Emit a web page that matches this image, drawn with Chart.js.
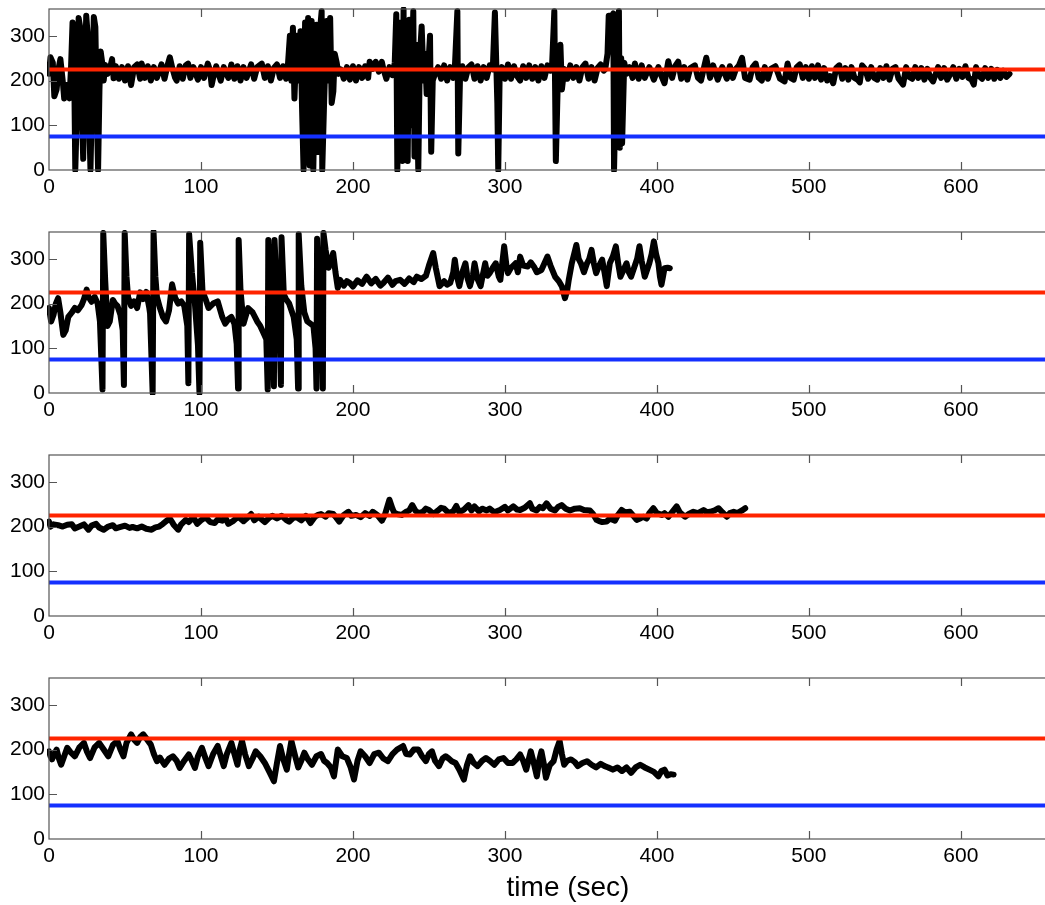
<!DOCTYPE html>
<html>
<head>
<meta charset="utf-8">
<script src="https://cdn.jsdelivr.net/npm/chart.js@4"></script>
<style>
html,body{margin:0;padding:0;background:#fff;overflow:hidden;}
#wrap{position:relative;width:1045px;height:905px;overflow:hidden;}
canvas{position:absolute;left:0;}
</style>
</head>
<body>
<div id="wrap">
<canvas id="c1" width="1090" height="223" style="top:0px"></canvas>
<canvas id="c2" width="1090" height="223" style="top:223px"></canvas>
<canvas id="c3" width="1090" height="223" style="top:446px"></canvas>
<canvas id="c4" width="1090" height="236" style="top:669px"></canvas>
</div>
<script>
// ---- data ----
const xTicks = [0, 100, 200, 300, 400, 500, 600];
const yTicks = [0, 100, 200, 300];
const xRange = [0, 683];
const yRange = [0, 360];
const upperLevel = 225;   // red reference line
const lowerLevel = 75;    // blue reference line
const xTitle = 'time (sec)';

const time1 = [0,1,2.5,3.5,5,6.5,7.5,9,10,11.5,12.5,13.5,14.5,15.5,16.5,17.3,18.5,19.5,20.5,21.5,22.5,23.5,24.5,25.5,26.5,27.3,28.5,29.5,30.5,31.5,32.3,33.2,34,35,36,37,38.5,
40,41.5,42.5,44,46,48,50,52,54,56,58,60,61,63,65,67,69,71,74,76,78,79.5,81,83,84,86,88,90,91.5,93,95,98,100,102,104.5,106,107,108,110,113,115,118,120,122,124,126,128,130,133,135,137,140,142,144,146,148,150,152,154,156,157,
158.5,159.5,160.5,161.5,163,164,165.5,166.5,167.5,168.5,169.5,170.5,171.5,172.8,173.9,175,176,177,178,179.4,179.8,181,182.7,184,185,186,187.1,188,189.3,190.5,192,
194,196,198,200,202,204,206,208,210,211,213,215,217,219,220,222,224,226,
227.5,228.5,229.2,230.5,231.5,232.5,233.3,234,235.3,236,237,238,239.7,240.5,241.5,243,244,245.2,246.5,247.4,248.5,250.7,251.5,252.5,254,
256,258,260,262,264,266,267,268.7,269.3,270.5,272,274,276,278,280,282,284,286,288,290,292,293.4,295,295.6,296.5,298,300,302,304,306,308,310,312,314,316,318,320,322,324,326,328,330,331,332.5,333.5,335,336.5,337.5,339,341,343,345,347,349,351,353,355,357,359,361,363,365,366,367.5,368.3,370.5,371.3,371.8,373,375,375.6,376.5,377.1,378.5,380,
382,384,385.5,388,390,392,395,398,401,403,405,407.5,410,412,414,416,418,420,422,425,427,429,432.5,435,437,440,443,446,448,450,452,454,456,458,461,463,465,467,469,471,473,475,478,481,484,486,488,490,492,494,496,498,500,502,504,506,508,510,512,514,516,518,520,522,524,526,528,530,532,533.5,535,537,539,541,543,545,547,549,551,553,555,557,559,562,564,566,568,570,572,574,576,578,580,581.7,583,585,587,589,591,593,595,597,599,601,603,605,607,608.5,610,612,614,616,618,620,622,624,626,628,630,632];
const angle1 = [215,252,240,165,180,230,248,200,160,190,175,160,230,330,250,0,150,340,320,150,25,210,345,300,100,0,200,342,320,120,0,180,265,240,200,235,215,
225,248,205,232,204,230,200,232,190,230,236,204,238,206,232,200,230,206,236,204,234,252,230,206,200,232,204,234,238,206,230,202,230,206,238,222,190,206,232,200,230,206,236,204,232,200,230,206,236,204,230,238,206,232,200,228,236,206,232,204,225,
300,200,318,160,300,200,310,140,0,330,60,340,10,333,0,200,325,40,300,355,0,150,333,200,340,150,176,260,240,215,225,
204,230,202,232,200,230,206,232,206,242,226,242,220,242,226,204,230,212,
240,348,0,250,330,20,359,30,300,20,336,100,355,30,280,0,250,321,200,260,170,300,41,200,215,
230,204,234,200,230,206,225,355,37,215,232,204,230,236,204,232,200,230,206,234,225,352,150,0,205,230,204,236,204,232,210,200,232,206,234,204,230,200,232,206,234,222,232,355,20,228,280,180,226,204,234,206,230,200,230,238,204,230,200,228,236,222,225,260,345,345,350,0,200,355,50,250,60,240,215,
230,206,238,204,234,206,230,202,230,210,194,243,206,232,242,204,230,202,228,234,206,200,251,206,234,202,230,204,232,206,226,234,251,206,202,230,238,206,200,230,204,226,232,204,198,238,206,202,230,236,206,230,204,232,206,234,202,228,200,210,194,228,234,204,228,202,230,206,202,196,234,226,204,230,206,202,228,206,232,202,226,230,204,191,230,208,204,230,206,228,202,226,206,198,210,230,206,228,202,214,230,204,226,208,232,206,202,191,230,210,204,228,206,226,204,224,206,222,208,215];

const time2 = [0,1.4,3,4.5,6,7.5,9.4,11,12.7,15,17,19,21.5,23,24.8,26,28,30,32,33.5,35.2,35.7,37,38.5,40,42,43.5,45,47,48.5,49.3,49.8,51,52,54,56,58,60,62,64,66,66.5,68.2,68.8,70,71,73,75,77,79,81,83,85,87,89,91,91.7,92.2,94,96,98,99,99.5,101,103,105,108,111,114,116,118,120,122,123.5,124.4,124.8,126,128,131,134,137,139,141,143,143.9,144.3,145.5,147,148,148.4,150,151.5,152.6,153,154.5,156,158,160,161,163,163.9,164.3,166,168,170,172,174,175.4,176,176.4,178,179.6,180.2,180.6,182,184,186,187,188.5,190,191.5,194,196,198,200,203,206,209,212,215,218,220,223,226,228,231,234,237,240,242,245,248,250,252.8,254.5,257,260,262,264,266,267,268.5,270,272,274,275.5,277,279,280,282,284,285.5,287,288.5,290,292,294,296,297,299.5,301,302,304,307,308.5,310,312,315,317,319,321,324,326,328,330,333,335.5,337.5,339.5,341,342,344,345.5,347,348.5,350,352,354,355.5,357,358.5,360,362,364,365.5,367,368,369,371,373,374.5,376,378,380,381.5,383,385,387,388.5,390,392,393.5,395,396.5,398,399.5,401,402,403,404,405,407,408.5];
const angle2 = [190,160,175,200,212,180,130,140,170,180,190,185,197,210,231,215,204,215,200,161,8,358,250,150,160,208,200,195,175,140,18,358,260,215,195,205,190,225,210,226,190,178,0,360,260,215,190,170,160,185,243,213,200,205,195,150,22,355,270,200,108,0,336,227,210,190,200,205,170,155,165,170,155,110,10,342,230,155,190,180,160,150,135,120,8,342,250,150,15,342,220,160,18,348,220,210,200,180,170,120,10,355,240,180,160,155,150,100,10,345,200,120,10,358,320,280,300,313,270,235,253,240,250,246,238,252,244,260,245,255,240,246,258,242,250,253,244,256,248,260,255,262,285,313,280,239,250,242,246,270,298,260,239,270,290,255,239,265,290,255,239,265,290,262,268,280,290,260,253,328,285,268,280,290,270,305,285,283,292,283,270,275,290,305,285,260,250,238,212,230,253,290,310,331,300,290,270,290,300,320,290,268,285,298,270,239,265,290,305,328,290,260,275,290,270,260,280,300,328,295,260,275,290,310,339,310,290,260,242,260,279,280,279];

const time3 = [0,1,3,6,9,12,15,17,20,23,26,28,31,33,36,39,42,44,46,50,53,55,58,61,64,67.5,70,72.5,75,77,79.5,81,82,85,87,90,92,95,97.5,100,103,106,109,111,114,116,118,121,123,125,128,130,133,135,138,140,142,145,147,150,153,156,158,161,163,166,169,172,175,177,179,182,184,187,189,191,194,197,199,202,205,208,211,213,216,219,221,224,226,227,229,232,235,237,239,241,243,246,248,250,253,256,258,260,263,266,268,270,273,276,278,280,283,285,288,290,293,296.7,300,302,305.5,308,310,313,316.4,318,320.8,323,325,327.4,330,332.9,335,337.3,340,342.8,346,349.3,352,355.9,358,360.3,362,364,366.9,369,372.4,374,376.8,379,382.3,384,386.7,389,391,393.3,395,397.7,400,403.2,405,407.6,410,413,415,418.5,421,424,427,430.7,433,435,438,440.6,443,446,448,450.5,453,456,458.1];
const angle3 = [211,200,205,203,200,204,205,196,200,205,193,202,206,198,193,200,203,196,198,202,197,199,196,200,195,193,198,200,206,212,218,210,204,193,205,215,210,221,206,214,221,210,208,216,213,220,206,212,218,221,212,218,228,214,222,216,210,220,224,218,224,215,211,220,221,214,224,208,222,226,228,222,230,228,220,211,226,233,224,226,221,230,224,233,226,213,226,260,240,232,228,226,233,236,248,236,230,233,240,237,228,236,242,240,230,234,246,232,238,248,236,245,234,240,236,240,232,237,244,236,245,238,237,242,252,240,236,244,241,252,240,236,244,248,240,236,240,241,237,236,228,215,212,210,211,218,213,224,237,232,233,226,215,218,222,218,230,241,230,226,230,222,232,245,232,222,228,233,230,237,232,233,236,241,232,222,230,233,230,236,241];

const time4 = [0,1,2,3.5,5,6.5,8,10,12,14,17,20,23,25,27,30,33,36,39,42,45,47,49,51,54,56,58,60,62,64,67,69,71,73,76,79,81.5,84,86,89,92,94,96,98,100.6,103,105,108,111,113,115,117,120,122,124,125.5,127,129,131.5,134,136,139,142,145,148,150,152,154,156.5,158,159.5,162,164,166,168,170,173,176,179,181,183,185.5,187.5,190,193,196,198.5,200.7,203,205,208,211,214,217,220,223,226,229,233,235,237.5,240,243,245.5,248,250,252,254,256.6,259,261,263,265,267.5,270,273,275,277,279.5,282,285,287.5,290,293,296,299,302,305,307.5,310,312,314,317,319,321,322.5,324,325.5,327,329.5,332,334,336,337.5,339,341,343.5,346,348,351,354,357,360,363,365.6,368,371,374,377,380,383,386,389,392,395,398,401,403,405,407,409,411];
const angle4 = [196,185,178,190,200,180,166,185,204,195,185,205,215,195,181,205,215,200,185,210,219,200,185,215,234,222,215,228,234,225,211,190,174,182,166,180,185,175,159,175,189,175,159,185,204,180,163,190,208,185,163,190,215,190,166,200,219,190,163,180,196,185,170,150,129,170,208,180,155,190,219,185,160,175,193,180,166,185,190,175,170,160,140,200,185,181,160,133,175,196,185,170,190,193,180,174,190,200,208,190,189,200,200,185,174,190,196,175,163,180,185,180,174,170,155,133,165,185,170,163,175,181,175,166,178,181,170,170,178,189,175,155,196,170,140,175,196,170,137,165,174,200,219,190,166,175,178,172,163,170,174,166,160,168,163,160,155,160,152,160,148,160,166,160,155,150,140,152,155,142,145,144];

const series = [[time1, angle1], [time2, angle2], [time3, angle3], [time4, angle4]];

// ---- drawing ----
const FONT = "'Liberation Sans', Arial, Helvetica, sans-serif";
const framePlugin = {
  id: 'frame',
  afterDraw(chart) {
    const {ctx, chartArea: a, scales} = chart;
    const xs = scales.x, ys = scales.y;
    ctx.save();
    ctx.strokeStyle = '#555';
    ctx.lineWidth = 1.2;
    ctx.strokeRect(a.left, a.top, a.right - a.left, a.bottom - a.top);
    const L = 8;
    ctx.beginPath();
    xs.ticks.forEach(t => {
      const p = Math.round(xs.getPixelForValue(t.value)) + 0.5;
      if (p <= a.left + 1 || p >= a.right - 1) return;
      ctx.moveTo(p, a.bottom); ctx.lineTo(p, a.bottom - L);
      ctx.moveTo(p, a.top); ctx.lineTo(p, a.top + L);
    });
    ys.ticks.forEach(t => {
      const p = Math.round(ys.getPixelForValue(t.value)) + 0.5;
      if (p <= a.top + 1 || p >= a.bottom - 1) return;
      ctx.moveTo(a.left, p); ctx.lineTo(a.left + L, p);
      ctx.moveTo(a.right, p); ctx.lineTo(a.right - L, p);
    });
    ctx.stroke();
    ctx.restore();
  }
};

function makeChart(id, idx, last) {
  const [tt, vv] = series[idx];
  const pts = tt.map((t, i) => ({x: t, y: vv[i]}));
  const hline = v => [{x: xRange[0], y: v}, {x: xRange[1], y: v}];
  const xAxisH = last ? 66 : 53;
  return new Chart(document.getElementById(id), {
    type: 'line',
    data: {
      datasets: [
        {data: hline(upperLevel), borderColor: 'rgb(255,36,0)', borderWidth: 4, pointRadius: 0, order: 1},
        {data: hline(lowerLevel), borderColor: 'rgb(20,48,255)', borderWidth: 4, pointRadius: 0, order: 1},
        {data: pts, borderColor: '#000', borderWidth: 6, pointRadius: 0, borderJoinStyle: 'round', borderCapStyle: 'round', tension: 0, order: 2, clip: 2}
      ]
    },
    options: {
      responsive: false,
      animation: false,
      devicePixelRatio: 1,
      events: [],
      layout: {padding: {top: 9, right: 3, left: 0, bottom: 0}},
      plugins: {legend: {display: false}, tooltip: {enabled: false}},
      scales: {
        x: {
          type: 'linear', min: xRange[0], max: xRange[1],
          afterFit(s) { s.height = xAxisH; s.paddingLeft = 0; s.paddingRight = 0; },
          afterBuildTicks(s) { s.ticks = xTicks.map(v => ({value: v})); },
          grid: {display: false, drawTicks: false},
          border: {display: false},
          ticks: {font: {family: FONT, size: 21}, color: '#000', padding: 5, maxRotation: 0, includeBounds: false},
          title: {display: last, text: xTitle, font: {family: FONT, size: 28}, color: '#000', padding: {top: 0, bottom: 0}}
        },
        y: {
          type: 'linear', min: yRange[0], max: yRange[1],
          afterFit(s) { s.width = 49; s.paddingTop = 0; s.paddingBottom = 0; },
          afterBuildTicks(s) { s.ticks = yTicks.map(v => ({value: v})); },
          grid: {display: false, drawTicks: false},
          border: {display: false},
          ticks: {font: {family: FONT, size: 21}, color: '#000', padding: 4, includeBounds: false}
        }
      }
    },
    plugins: [framePlugin]
  });
}
makeChart('c1', 0, false);
makeChart('c2', 1, false);
makeChart('c3', 2, false);
makeChart('c4', 3, true);
</script>
</body>
</html>
